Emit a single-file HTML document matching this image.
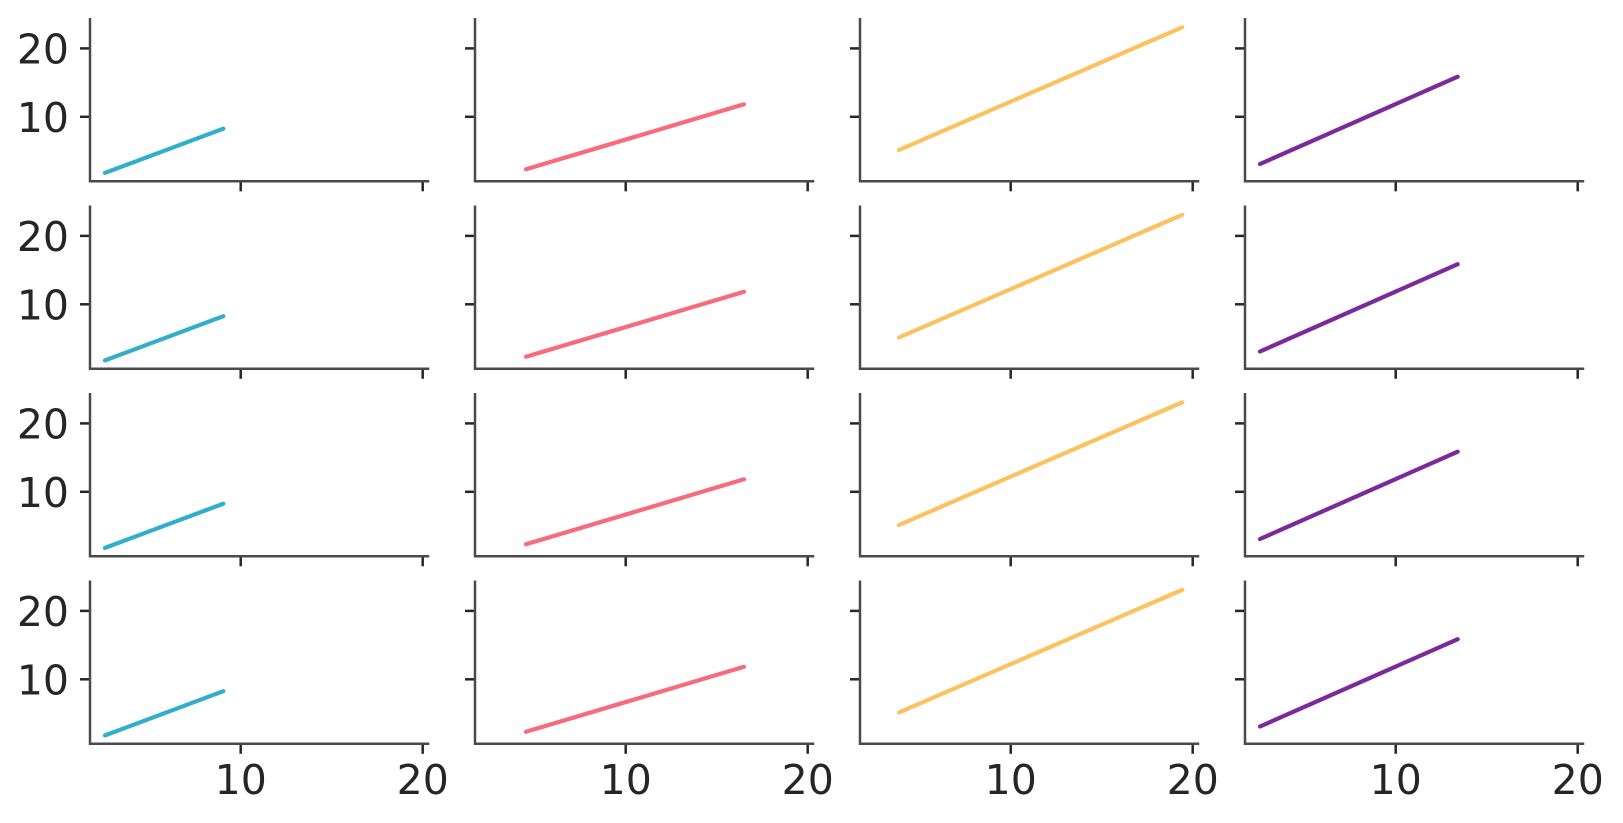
<!DOCTYPE html>
<html><head><meta charset="utf-8"><style>
html,body{margin:0;padding:0;background:#fff;}
svg{display:block;}
text{font-family:"DejaVu Sans","Liberation Sans",sans-serif;font-size:41px;fill:#262626;}
.sp{stroke:#4a4a4a;stroke-width:2.5;fill:none;stroke-linecap:square;}
.tk{stroke:#262626;stroke-width:2.5;}
.d{stroke-width:4.2;stroke-linecap:round;fill:none;}
</style></head><body>
<svg width="1623" height="823" viewBox="0 0 1623 823" xmlns="http://www.w3.org/2000/svg">
<defs>
<g id="ax">
<line class="tk" x1="-10" y1="29.1" x2="0" y2="29.1"/>
<line class="tk" x1="-10" y1="97.5" x2="0" y2="97.5"/>
<line class="tk" x1="150.7" y1="162" x2="150.7" y2="172"/>
<line class="tk" x1="332.7" y1="162" x2="332.7" y2="172"/>
<path class="sp" d="M0,0 V162 H338"/>
</g>
<line id="l1" class="d" stroke="#30aecb" x1="15" y1="153.6" x2="133.3" y2="109.4"/>
<line id="l2" class="d" stroke="#f86b7e" x1="51" y1="150" x2="269" y2="85"/>
<line id="l3" class="d" stroke="#fdc25f" x1="39" y1="130.7" x2="322.3" y2="8"/>
<line id="l4" class="d" stroke="#7b2a9b" x1="15" y1="144.7" x2="212.7" y2="57.4"/>
</defs>

<!-- row 1 -->
<g transform="translate(90,19.3)"><use href="#ax"/><use href="#l1"/></g>
<g transform="translate(475,19.3)"><use href="#ax"/><use href="#l2"/></g>
<g transform="translate(860,19.3)"><use href="#ax"/><use href="#l3"/></g>
<g transform="translate(1245,19.3)"><use href="#ax"/><use href="#l4"/></g>
<!-- row 2 -->
<g transform="translate(90,206.8)"><use href="#ax"/><use href="#l1"/></g>
<g transform="translate(475,206.8)"><use href="#ax"/><use href="#l2"/></g>
<g transform="translate(860,206.8)"><use href="#ax"/><use href="#l3"/></g>
<g transform="translate(1245,206.8)"><use href="#ax"/><use href="#l4"/></g>
<!-- row 3 -->
<g transform="translate(90,394.3)"><use href="#ax"/><use href="#l1"/></g>
<g transform="translate(475,394.3)"><use href="#ax"/><use href="#l2"/></g>
<g transform="translate(860,394.3)"><use href="#ax"/><use href="#l3"/></g>
<g transform="translate(1245,394.3)"><use href="#ax"/><use href="#l4"/></g>
<!-- row 4 -->
<g transform="translate(90,581.8)"><use href="#ax"/><use href="#l1"/></g>
<g transform="translate(475,581.8)"><use href="#ax"/><use href="#l2"/></g>
<g transform="translate(860,581.8)"><use href="#ax"/><use href="#l3"/></g>
<g transform="translate(1245,581.8)"><use href="#ax"/><use href="#l4"/></g>

<!-- y tick labels -->
<g text-anchor="end">
<text x="69" y="63.4">20</text>
<text x="69" y="131.8">10</text>
<text x="69" y="250.9">20</text>
<text x="69" y="319.3">10</text>
<text x="69" y="438.4">20</text>
<text x="69" y="506.8">10</text>
<text x="69" y="625.9">20</text>
<text x="69" y="694.3">10</text>
</g>
<!-- x tick labels -->
<g text-anchor="middle">
<text x="240.7" y="794">10</text>
<text x="422.7" y="794">20</text>
<text x="625.7" y="794">10</text>
<text x="807.7" y="794">20</text>
<text x="1010.7" y="794">10</text>
<text x="1192.7" y="794">20</text>
<text x="1395.7" y="794">10</text>
<text x="1577.7" y="794">20</text>
</g>
</svg>
</body></html>
